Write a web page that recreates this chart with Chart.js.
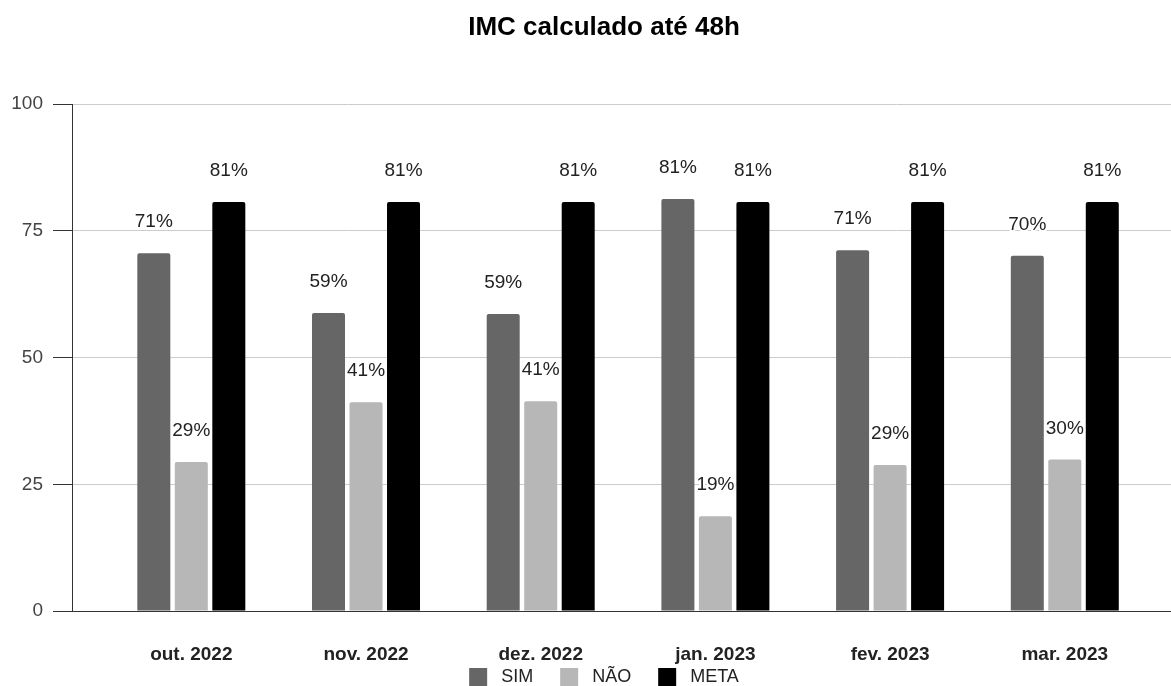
<!DOCTYPE html>
<html><head><meta charset="utf-8">
<script src="https://cdn.jsdelivr.net/npm/chart.js@4"></script>
<style>html,body{margin:0;padding:0;background:#fff;overflow:hidden}#wrap{width:1171px;height:686px}</style>
</head><body><div id="wrap"><canvas id="c" width="1171" height="686"></canvas></div>
<script>
const categories = ['out. 2022','nov. 2022','dez. 2022','jan. 2023','fev. 2023','mar. 2023'];
const seriesNames = ['SIM','NÃO','META'];
const simValues  = [70.6, 58.8, 58.6, 81.3, 71.2, 70.1];
const naoValues  = [29.4, 41.2, 41.4, 18.7, 28.8, 29.9];
const metaValues = [80.7, 80.7, 80.7, 80.7, 80.7, 80.7];
const yTickStep = 25;
const chartTitle = 'IMC calculado até 48h';

const FONT = '"Liberation Sans", Arial, sans-serif';
Chart.defaults.font.family = FONT;

const toPoints = arr => arr.map((v, i) => ({x: i, y: v}));

const barLabels = {
  id: 'barLabels',
  afterDatasetsDraw(chart) {
    const ctx = chart.ctx;
    ctx.save();
    ctx.font = '19px ' + FONT;
    ctx.textAlign = 'center';
    ctx.textBaseline = 'middle';
    ctx.lineJoin = 'round';
    chart.data.datasets.forEach((ds, di) => {
      const meta = chart.getDatasetMeta(di);
      meta.data.forEach((el, i) => {
        const txt = Math.round(ds.data[i].y) + '%';
        const y = el.y - 31;
        ctx.strokeStyle = '#fff'; ctx.lineWidth = 4; ctx.strokeText(txt, el.x, y);
        ctx.fillStyle = '#222'; ctx.fillText(txt, el.x, y);
      });
    });
    ctx.restore();
  }
};

new Chart(document.getElementById('c'), {
  type: 'bar',
  data: {
    datasets: [
      {label: seriesNames[0], data: toPoints(simValues), backgroundColor: '#666666'},
      {label: seriesNames[1], data: toPoints(naoValues), backgroundColor: '#b7b7b7'},
      {label: seriesNames[2], data: toPoints(metaValues), backgroundColor: '#000000'}
    ]
  },
  options: {
    responsive: false,
    animation: false,
    layout: {padding: {left: 10, right: -27, top: 0, bottom: -10}},
    datasets: {bar: {categoryPercentage: 0.644, barPercentage: 0.88, borderRadius: 2, borderSkipped: 'start'}},
    scales: {
      x: {
        type: 'linear', min: -0.683, max: 5.608, offset: false,
        grid: {display: false, drawTicks: false},
        border: {display: true, color: '#333'},
        ticks: {
          stepSize: 1, includeBounds: false, autoSkip: false, maxRotation: 0, padding: 32,
          color: '#222', font: {size: 19, weight: 'bold'},
          callback: v => (categories[v] !== undefined ? categories[v] : '')
        },
        afterFit(s) { s.height = 55; }
      },
      y: {
        min: 0, max: 100,
        grid: {color: '#cccccc', tickColor: '#333', tickLength: 19},
        border: {color: '#333'},
        ticks: {stepSize: yTickStep, padding: 10, color: '#444', font: {size: 19}},
        afterFit(s) { s.width = 62; }
      }
    },
    plugins: {
      title: {display: true, text: chartTitle, color: '#000', font: {size: 26, weight: 'bold'}, padding: {top: 12, bottom: 61}},
      legend: {
        position: 'bottom',
        labels: {
          boxWidth: 18, boxHeight: 18, padding: 2, color: '#222', font: {size: 18},
          generateLabels(chart) {
            const items = Chart.defaults.plugins.legend.labels.generateLabels(chart);
            return items.map((l, i) => Object.assign(l, {
              text: ' ' + l.text + (i < items.length - 1 ? '     ' : ''),
              lineWidth: 0
            }));
          }
        }
      },
      tooltip: {enabled: false}
    }
  },
  plugins: [barLabels]
});
</script>
</body></html>
